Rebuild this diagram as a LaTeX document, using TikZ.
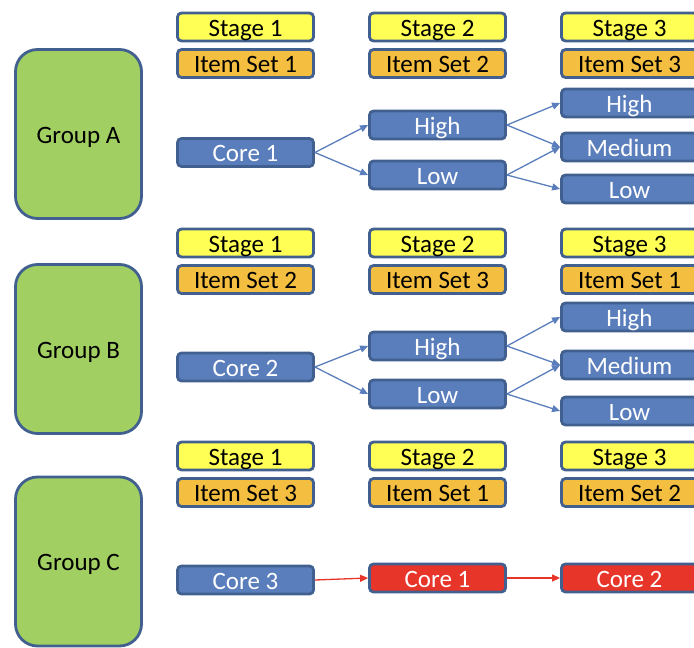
\documentclass[tikz,border=0pt]{standalone}
\usepackage{fontspec}
\setmainfont{Carlito}
\usetikzlibrary{positioning, arrows.meta}
\definecolor{Edge}{HTML}{41608F}
\definecolor{Leaf}{HTML}{A1CF62}
\definecolor{Sun}{HTML}{FFFF55}
\definecolor{Amber}{HTML}{F4BE40}
\definecolor{Steel}{HTML}{5A7EBC}
\definecolor{Alarm}{HTML}{E8352A}
\tikzset{
    cell/.style={rectangle, rounded corners=4pt, draw=Edge, line width=2.8pt, minimum width=136pt, minimum height=28pt, inner sep=0pt, text height=18pt, text depth=0pt, font=\fontsize{25}{27}\selectfont},
    stagebox/.style={cell, fill=Sun, text=black},
    setbox/.style={cell, fill=Amber, text=black},
    corebox/.style={cell, fill=Steel, text=white},
    hotbox/.style={cell, fill=Alarm, text=white},
    groupbox/.style={rectangle, rounded corners=22pt, draw=Edge, line width=2.8pt, fill=Leaf, minimum width=126pt, minimum height=169pt, text height=18pt, text depth=0pt, font=\fontsize{25}{27}\selectfont},
    link/.style={-{Triangle[width=7pt,length=8pt]}, line width=1.3pt, color=Steel},
    hotlink/.style={link, color=Alarm},
}
\begin{document}
\begin{tikzpicture}[x=1pt, y=-1pt]
    \useasboundingbox (0,0) rectangle (694,648);
    \clip (0,0) rectangle (694,648);
    % stage and item set rows
    \foreach \g/\y/\a/\b/\c in {A/27/1/2/3, B/243/2/3/1, C/456/3/1/2} {
        \node[stagebox] (st\g1) at (245.5,\y) {Stage 1};
        \node[stagebox] (st\g2) at (437.5,\y) {Stage 2};
        \node[stagebox] (st\g3) at (629.5,\y) {Stage 3};
        \node[setbox] (is\g1) at (245.5,\y+36.5) {Item Set \a};
        \node[setbox] (is\g2) at (437.5,\y+36.5) {Item Set \b};
        \node[setbox] (is\g3) at (629.5,\y+36.5) {Item Set \c};
    }
    % groups
    \node[groupbox] (grA) at (78.5,134) {Group A};
    \node[groupbox] (grB) at (78.5,349) {Group B};
    \node[groupbox] (grC) at (78.5,561.5) {Group C};
    % group A
    \node[corebox] (coreA) at (245.5,152.5) {Core 1};
    \node[corebox] (hiA) at (437.5,125) {High};
    \node[corebox] (loA) at (437.5,175) {Low};
    \node[corebox] (hiA3) at (629.5,103) {High};
    \node[corebox] (mdA3) at (629.5,147) {Medium};
    \node[corebox] (loA3) at (629.5,189) {Low};
    \draw[link] (coreA.east) -- (hiA.west);
    \draw[link] (coreA.east) -- (loA.west);
    \draw[link] (hiA.east) -- (hiA3.west);
    \draw[link] (hiA.east) -- (mdA3.west);
    \draw[link] (loA.east) -- (mdA3.west);
    \draw[link] (loA.east) -- (loA3.west);
    % group B
    \node[corebox] (coreB) at (245.5,367) {Core 2};
    \node[corebox] (hiB) at (437.5,346) {High};
    \node[corebox] (loB) at (437.5,394) {Low};
    \node[corebox] (hiB3) at (629.5,317) {High};
    \node[corebox] (mdB3) at (629.5,365) {Medium};
    \node[corebox] (loB3) at (629.5,411) {Low};
    \draw[link] (coreB.east) -- (hiB.west);
    \draw[link] (coreB.east) -- (loB.west);
    \draw[link] (hiB.east) -- (hiB3.west);
    \draw[link] (hiB.east) -- (mdB3.west);
    \draw[link] (loB.east) -- (mdB3.west);
    \draw[link] (loB.east) -- (loB3.west);
    % group C
    \node[corebox] (coreC) at (245.5,580) {Core 3};
    \node[hotbox] (hotC2) at (437.5,578) {Core 1};
    \node[hotbox] (hotC3) at (629.5,578) {Core 2};
    \draw[hotlink] (coreC.east) -- (hotC2.west);
    \draw[hotlink] (hotC2.east) -- (hotC3.west);
\end{tikzpicture}
\end{document}
